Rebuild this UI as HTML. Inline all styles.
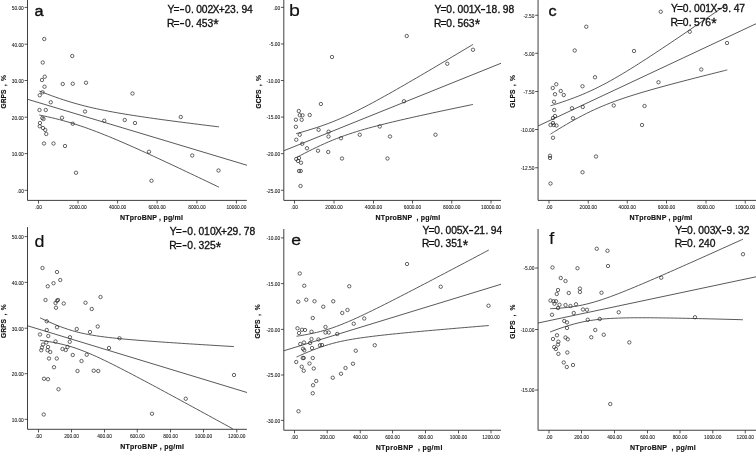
<!DOCTYPE html>
<html lang="en">
<head>
<meta charset="utf-8">
<title>NTproBNP vs strain scatter plots</title>
<style>
html,body{margin:0;padding:0;background:#fff;}
body{width:756px;height:458px;overflow:hidden;font-family:"Liberation Sans",sans-serif;}
svg{display:block;will-change:transform;}
svg text{font-family:"Liberation Sans",sans-serif;fill:#111;}
.ax{fill:none;stroke:#2b2b2b;stroke-width:0.9;}
.tk{fill:none;stroke:#2b2b2b;stroke-width:0.8;}
.cv{fill:none;stroke:#2e2e2e;stroke-width:0.8;}
circle{fill:none;stroke:#262626;stroke-width:0.7;}
.tl{font-size:4.8px;fill:#1a1a1a;stroke:#1a1a1a;stroke-width:0.08;}
.al{font-size:7.0px;font-weight:bold;stroke:#111;stroke-width:0.15;}
.yl{font-size:6.7px;font-weight:bold;stroke:#111;stroke-width:0.15;}
.lt{stroke:#111;}
.eq{font-size:10.3px;stroke:#111;stroke-width:0.32;}
</style>
</head>
<body>
<svg width="756" height="458" viewBox="0 0 756 458">
<rect width="756" height="458" fill="#fff"/>
<g id="panel-a">
<path class="ax" d="M27.5,0V200.4H246.9"/>
<path class="tk" d="M24.60,7.40H27.50M24.60,44.20H27.50M24.60,80.50H27.50M24.60,117.20H27.50M24.60,153.60H27.50M24.60,190.30H27.50M38.50,200.40V203.50M78.00,200.40V203.50M117.60,200.40V203.50M157.10,200.40V203.50M196.90,200.40V203.50M236.40,200.40V203.50"/>
<text class="tl" text-anchor="end" x="23.80" y="9.75">50.00</text>
<text class="tl" text-anchor="end" x="23.80" y="46.55">40.00</text>
<text class="tl" text-anchor="end" x="23.80" y="82.85">30.00</text>
<text class="tl" text-anchor="end" x="23.80" y="119.55">20.00</text>
<text class="tl" text-anchor="end" x="23.80" y="155.95">10.00</text>
<text class="tl" text-anchor="end" x="23.80" y="192.65">.00</text>
<text class="tl" text-anchor="middle" x="38.50" y="208.85">.00</text>
<text class="tl" text-anchor="middle" x="78.00" y="208.85">2000.00</text>
<text class="tl" text-anchor="middle" x="117.60" y="208.85">4000.00</text>
<text class="tl" text-anchor="middle" x="157.10" y="208.85">6000.00</text>
<text class="tl" text-anchor="middle" x="196.90" y="208.85">8000.00</text>
<text class="tl" text-anchor="middle" x="236.40" y="208.85">10000.00</text>
<path class="cv" d="M39.25,91.00C39.93,91.27 41.97,92.07 43.34,92.60C44.70,93.13 46.06,93.65 47.42,94.16C48.78,94.67 50.14,95.18 51.51,95.67C52.87,96.17 54.23,96.66 55.59,97.14C56.95,97.62 58.31,98.09 59.68,98.55C61.04,99.01 62.40,99.46 63.76,99.91C65.12,100.35 66.48,100.78 67.85,101.21C69.21,101.63 70.57,102.04 71.93,102.45C73.29,102.85 74.66,103.24 76.02,103.63C77.38,104.01 78.74,104.39 80.10,104.75C81.46,105.12 82.83,105.47 84.19,105.82C85.55,106.17 86.91,106.51 88.27,106.83C89.63,107.16 91.00,107.48 92.36,107.80C93.72,108.11 95.08,108.42 96.44,108.71C97.80,109.01 99.17,109.30 100.53,109.59C101.89,109.87 103.25,110.15 104.61,110.42C105.98,110.69 107.34,110.96 108.70,111.22C110.06,111.48 111.42,111.73 112.78,111.98C114.15,112.23 115.51,112.48 116.87,112.72C118.23,112.96 119.59,113.19 120.95,113.43C122.32,113.66 123.68,113.89 125.04,114.11C126.40,114.34 127.76,114.56 129.12,114.78C130.49,115.00 131.85,115.21 133.21,115.43C134.57,115.64 135.93,115.85 137.30,116.06C138.66,116.27 140.02,116.47 141.38,116.67C142.74,116.88 144.10,117.08 145.47,117.28C146.83,117.47 148.19,117.67 149.55,117.87C150.91,118.06 152.27,118.25 153.64,118.45C155.00,118.64 156.36,118.83 157.72,119.02C159.08,119.20 160.45,119.39 161.81,119.58C163.17,119.76 164.53,119.95 165.89,120.13C167.25,120.31 168.62,120.50 169.98,120.68C171.34,120.86 172.70,121.04 174.06,121.22C175.42,121.40 176.79,121.57 178.15,121.75C179.51,121.93 180.87,122.10 182.23,122.28C183.59,122.45 184.96,122.63 186.32,122.80C187.68,122.98 189.04,123.15 190.40,123.32C191.77,123.49 193.13,123.67 194.49,123.84C195.85,124.01 197.21,124.18 198.57,124.35C199.94,124.52 201.30,124.69 202.66,124.86C204.02,125.02 205.38,125.19 206.74,125.36C208.11,125.53 209.47,125.69 210.83,125.86C212.19,126.03 213.55,126.19 214.91,126.36C216.28,126.53 218.32,126.77 219.00,126.86"/>
<path class="cv" d="M27.50,99.25L247.00,165.25"/>
<path class="cv" d="M39.25,114.97C39.93,115.11 41.97,115.53 43.34,115.82C44.70,116.11 46.06,116.41 47.42,116.72C48.78,117.03 50.14,117.34 51.51,117.66C52.87,117.99 54.23,118.32 55.59,118.65C56.95,118.99 58.31,119.34 59.68,119.70C61.04,120.06 62.40,120.42 63.76,120.80C65.12,121.18 66.48,121.56 67.85,121.96C69.21,122.35 70.57,122.76 71.93,123.17C73.29,123.59 74.66,124.01 76.02,124.45C77.38,124.88 78.74,125.33 80.10,125.78C81.46,126.23 82.83,126.70 84.19,127.17C85.55,127.64 86.91,128.12 88.27,128.61C89.63,129.10 91.00,129.60 92.36,130.11C93.72,130.61 95.08,131.13 96.44,131.65C97.80,132.17 99.17,132.70 100.53,133.23C101.89,133.76 103.25,134.31 104.61,134.85C105.98,135.40 107.34,135.95 108.70,136.51C110.06,137.07 111.42,137.64 112.78,138.20C114.15,138.77 115.51,139.35 116.87,139.93C118.23,140.50 119.59,141.09 120.95,141.67C122.32,142.26 123.68,142.85 125.04,143.44C126.40,144.04 127.76,144.63 129.12,145.23C130.49,145.83 131.85,146.44 133.21,147.04C134.57,147.65 135.93,148.26 137.30,148.87C138.66,149.48 140.02,150.10 141.38,150.71C142.74,151.33 144.10,151.95 145.47,152.57C146.83,153.19 148.19,153.81 149.55,154.43C150.91,155.06 152.27,155.68 153.64,156.31C155.00,156.94 156.36,157.56 157.72,158.20C159.08,158.83 160.45,159.46 161.81,160.09C163.17,160.72 164.53,161.36 165.89,161.99C167.25,162.63 168.62,163.27 169.98,163.90C171.34,164.54 172.70,165.18 174.06,165.82C175.42,166.46 176.79,167.10 178.15,167.74C179.51,168.39 180.87,169.03 182.23,169.67C183.59,170.32 184.96,170.96 186.32,171.61C187.68,172.25 189.04,172.90 190.40,173.54C191.77,174.19 193.13,174.84 194.49,175.48C195.85,176.13 197.21,176.78 198.57,177.43C199.94,178.08 201.30,178.73 202.66,179.38C204.02,180.03 205.38,180.68 206.74,181.33C208.11,181.98 209.47,182.63 210.83,183.29C212.19,183.94 213.55,184.59 214.91,185.24C216.28,185.90 218.32,186.88 219.00,187.21"/>
<circle cx="44.25" cy="39.00" r="1.7"/>
<circle cx="72.25" cy="56.00" r="1.7"/>
<circle cx="42.75" cy="62.50" r="1.7"/>
<circle cx="44.75" cy="76.75" r="1.7"/>
<circle cx="42.00" cy="80.00" r="1.7"/>
<circle cx="62.75" cy="84.00" r="1.7"/>
<circle cx="72.75" cy="83.75" r="1.7"/>
<circle cx="86.00" cy="82.75" r="1.7"/>
<circle cx="44.50" cy="86.75" r="1.7"/>
<circle cx="42.50" cy="92.25" r="1.7"/>
<circle cx="39.75" cy="95.25" r="1.7"/>
<circle cx="132.50" cy="93.50" r="1.7"/>
<circle cx="50.75" cy="102.25" r="1.7"/>
<circle cx="39.50" cy="110.00" r="1.7"/>
<circle cx="45.75" cy="110.00" r="1.7"/>
<circle cx="85.00" cy="111.50" r="1.7"/>
<circle cx="42.30" cy="118.00" r="1.7"/>
<circle cx="43.50" cy="119.00" r="1.7"/>
<circle cx="62.00" cy="117.75" r="1.7"/>
<circle cx="40.00" cy="123.00" r="1.7"/>
<circle cx="72.75" cy="123.75" r="1.7"/>
<circle cx="39.75" cy="126.25" r="1.7"/>
<circle cx="43.00" cy="128.00" r="1.7"/>
<circle cx="45.25" cy="130.00" r="1.7"/>
<circle cx="46.25" cy="134.00" r="1.7"/>
<circle cx="44.00" cy="143.50" r="1.7"/>
<circle cx="53.50" cy="143.50" r="1.7"/>
<circle cx="65.00" cy="146.00" r="1.7"/>
<circle cx="76.00" cy="172.75" r="1.7"/>
<circle cx="104.25" cy="120.75" r="1.7"/>
<circle cx="124.75" cy="120.00" r="1.7"/>
<circle cx="135.00" cy="123.00" r="1.7"/>
<circle cx="149.00" cy="151.75" r="1.7"/>
<circle cx="151.50" cy="180.75" r="1.7"/>
<circle cx="180.75" cy="117.00" r="1.7"/>
<circle cx="192.25" cy="155.50" r="1.7"/>
<circle cx="218.50" cy="170.50" r="1.7"/>
<text class="lt" font-size="15.4" stroke-width="0.4" transform="translate(34.42,16.3) scale(1.05,1)">a</text>
<text class="yl" word-spacing="1.53" transform="translate(5.9,108.5) rotate(-90)">GRPS , %</text>
<text class="al" text-anchor="middle" textLength="62.8" lengthAdjust="spacing" xml:space="preserve" x="151.5" y="219.7">NTproBNP , pg/ml</text>
<text class="eq" x="167.39 173.47 179.29 184.91 190.92 196.21 201.86 207.59 212.58 218.67 224.54 230.12 236.12 241.41 247.09" y="13.00 13.00 14.00 13.00 13.00 13.00 13.00 13.00 13.00 13.00 13.00 13.00 13.00 13.00 13.00">Y=<tspan font-size="17.0" stroke="none">-</tspan>0.002X+23.94</text>
<text class="eq" x="166.92 173.47 179.29 184.91 190.92 196.24 201.84 207.52 213.29" y="26.50 26.50 27.50 26.50 26.50 26.50 26.50 26.50 29.30">R=<tspan font-size="17.0" stroke="none">-</tspan>0.453<tspan font-size="14.0">*</tspan></text>
</g>
<g id="panel-b">
<path class="ax" d="M283.8,0V200.4H501"/>
<path class="tk" d="M280.90,7.40H283.80M280.90,43.95H283.80M280.90,80.50H283.80M280.90,117.10H283.80M280.90,153.65H283.80M280.90,190.25H283.80M294.50,200.40V203.50M334.00,200.40V203.50M373.50,200.40V203.50M412.50,200.40V203.50M451.75,200.40V203.50M491.00,200.40V203.50"/>
<text class="tl" text-anchor="end" x="280.10" y="9.75">.00</text>
<text class="tl" text-anchor="end" x="280.10" y="46.30">-5.00</text>
<text class="tl" text-anchor="end" x="280.10" y="82.85">-10.00</text>
<text class="tl" text-anchor="end" x="280.10" y="119.45">-15.00</text>
<text class="tl" text-anchor="end" x="280.10" y="156.00">-20.00</text>
<text class="tl" text-anchor="end" x="280.10" y="192.60">-25.00</text>
<text class="tl" text-anchor="middle" x="294.50" y="208.85">.00</text>
<text class="tl" text-anchor="middle" x="334.00" y="208.85">2000.00</text>
<text class="tl" text-anchor="middle" x="373.50" y="208.85">4000.00</text>
<text class="tl" text-anchor="middle" x="412.50" y="208.85">6000.00</text>
<text class="tl" text-anchor="middle" x="451.75" y="208.85">8000.00</text>
<text class="tl" text-anchor="middle" x="491.00" y="208.85">10000.00</text>
<path class="cv" d="M296.00,133.68C296.67,133.50 298.68,132.95 300.02,132.58C301.36,132.21 302.70,131.83 304.05,131.44C305.39,131.05 306.73,130.66 308.07,130.26C309.41,129.86 310.75,129.45 312.09,129.03C313.43,128.61 314.77,128.18 316.11,127.74C317.45,127.31 318.80,126.86 320.14,126.40C321.48,125.94 322.82,125.47 324.16,124.99C325.50,124.51 326.84,124.02 328.18,123.51C329.52,123.01 330.86,122.49 332.20,121.96C333.55,121.43 334.89,120.89 336.23,120.34C337.57,119.78 338.91,119.22 340.25,118.64C341.59,118.06 342.93,117.47 344.27,116.87C345.61,116.27 346.95,115.65 348.30,115.03C349.64,114.41 350.98,113.77 352.32,113.13C353.66,112.48 355.00,111.83 356.34,111.16C357.68,110.50 359.02,109.83 360.36,109.15C361.70,108.47 363.05,107.78 364.39,107.08C365.73,106.39 367.07,105.69 368.41,104.98C369.75,104.27 371.09,103.55 372.43,102.83C373.77,102.12 375.11,101.39 376.45,100.66C377.80,99.93 379.14,99.19 380.48,98.46C381.82,97.72 383.16,96.97 384.50,96.23C385.84,95.48 387.18,94.73 388.52,93.98C389.86,93.22 391.20,92.47 392.55,91.71C393.89,90.95 395.23,90.19 396.57,89.42C397.91,88.66 399.25,87.89 400.59,87.12C401.93,86.35 403.27,85.58 404.61,84.81C405.95,84.04 407.30,83.26 408.64,82.48C409.98,81.71 411.32,80.93 412.66,80.15C414.00,79.37 415.34,78.59 416.68,77.81C418.02,77.02 419.36,76.24 420.70,75.45C422.05,74.67 423.39,73.88 424.73,73.10C426.07,72.31 427.41,71.52 428.75,70.73C430.09,69.94 431.43,69.15 432.77,68.36C434.11,67.57 435.45,66.78 436.80,65.98C438.14,65.19 439.48,64.40 440.82,63.60C442.16,62.81 443.50,62.01 444.84,61.22C446.18,60.42 447.52,59.62 448.86,58.83C450.20,58.03 451.55,57.23 452.89,56.43C454.23,55.64 455.57,54.84 456.91,54.04C458.25,53.24 459.59,52.44 460.93,51.64C462.27,50.84 463.61,50.04 464.95,49.24C466.30,48.44 467.64,47.63 468.98,46.83C470.32,46.03 472.33,44.83 473.00,44.43"/>
<path class="cv" d="M283.80,150.75L501.00,63.25"/>
<path class="cv" d="M296.50,157.52C297.17,157.16 299.17,156.09 300.51,155.39C301.85,154.69 303.19,153.99 304.52,153.30C305.86,152.61 307.20,151.93 308.53,151.25C309.87,150.58 311.21,149.91 312.55,149.25C313.88,148.60 315.22,147.95 316.56,147.31C317.89,146.67 319.23,146.04 320.57,145.42C321.91,144.81 323.24,144.20 324.58,143.60C325.92,143.01 327.25,142.42 328.59,141.85C329.93,141.28 331.27,140.72 332.60,140.17C333.94,139.63 335.28,139.09 336.61,138.57C337.95,138.05 339.29,137.54 340.62,137.04C341.96,136.54 343.30,136.05 344.64,135.58C345.97,135.10 347.31,134.64 348.65,134.19C349.98,133.73 351.32,133.29 352.66,132.86C354.00,132.43 355.33,132.00 356.67,131.59C358.01,131.17 359.34,130.77 360.68,130.37C362.02,129.97 363.36,129.58 364.69,129.20C366.03,128.82 367.37,128.44 368.70,128.07C370.04,127.70 371.38,127.34 372.72,126.98C374.05,126.62 375.39,126.27 376.73,125.92C378.06,125.57 379.40,125.22 380.74,124.88C382.08,124.54 383.41,124.21 384.75,123.88C386.09,123.54 387.42,123.21 388.76,122.89C390.10,122.56 391.44,122.24 392.77,121.92C394.11,121.60 395.45,121.28 396.78,120.97C398.12,120.65 399.46,120.34 400.80,120.03C402.13,119.72 403.47,119.41 404.81,119.11C406.14,118.80 407.48,118.50 408.82,118.19C410.16,117.89 411.49,117.59 412.83,117.29C414.17,116.99 415.50,116.69 416.84,116.39C418.18,116.10 419.52,115.80 420.85,115.51C422.19,115.21 423.53,114.92 424.86,114.63C426.20,114.34 427.54,114.05 428.88,113.76C430.21,113.47 431.55,113.18 432.89,112.89C434.22,112.60 435.56,112.31 436.90,112.03C438.23,111.74 439.57,111.45 440.91,111.17C442.25,110.88 443.58,110.60 444.92,110.32C446.26,110.03 447.59,109.75 448.93,109.47C450.27,109.18 451.61,108.90 452.94,108.62C454.28,108.34 455.62,108.06 456.95,107.78C458.29,107.50 459.63,107.22 460.97,106.94C462.30,106.66 463.64,106.38 464.98,106.10C466.31,105.82 467.65,105.54 468.99,105.27C470.33,104.99 472.33,104.57 473.00,104.43"/>
<circle cx="332.00" cy="57.00" r="1.7"/>
<circle cx="320.90" cy="104.00" r="1.7"/>
<circle cx="298.80" cy="111.00" r="1.7"/>
<circle cx="299.80" cy="115.20" r="1.7"/>
<circle cx="302.50" cy="115.30" r="1.7"/>
<circle cx="309.70" cy="115.00" r="1.7"/>
<circle cx="295.90" cy="119.75" r="1.7"/>
<circle cx="301.70" cy="119.80" r="1.7"/>
<circle cx="295.90" cy="126.80" r="1.7"/>
<circle cx="318.60" cy="129.80" r="1.7"/>
<circle cx="328.60" cy="131.70" r="1.7"/>
<circle cx="299.75" cy="134.75" r="1.7"/>
<circle cx="328.50" cy="136.50" r="1.7"/>
<circle cx="296.25" cy="139.75" r="1.7"/>
<circle cx="302.25" cy="143.75" r="1.7"/>
<circle cx="341.00" cy="138.25" r="1.7"/>
<circle cx="359.75" cy="134.75" r="1.7"/>
<circle cx="307.00" cy="148.25" r="1.7"/>
<circle cx="318.00" cy="150.75" r="1.7"/>
<circle cx="328.25" cy="152.00" r="1.7"/>
<circle cx="342.00" cy="158.50" r="1.7"/>
<circle cx="296.25" cy="159.00" r="1.7"/>
<circle cx="299.00" cy="158.00" r="1.7"/>
<circle cx="298.00" cy="161.00" r="1.7"/>
<circle cx="301.00" cy="162.75" r="1.7"/>
<circle cx="299.00" cy="171.00" r="1.7"/>
<circle cx="300.75" cy="171.00" r="1.7"/>
<circle cx="300.50" cy="186.00" r="1.7"/>
<circle cx="406.75" cy="36.00" r="1.7"/>
<circle cx="473.00" cy="49.75" r="1.7"/>
<circle cx="447.25" cy="63.75" r="1.7"/>
<circle cx="404.00" cy="101.25" r="1.7"/>
<circle cx="379.75" cy="126.50" r="1.7"/>
<circle cx="390.00" cy="136.50" r="1.7"/>
<circle cx="435.50" cy="134.75" r="1.7"/>
<circle cx="387.50" cy="158.50" r="1.7"/>
<text class="lt" font-size="16.3" stroke-width="0.1" transform="translate(288.95,16.45) scale(1.2,1)">b</text>
<text class="yl" word-spacing="1.53" transform="translate(260.9,108.5) rotate(-90)">GCPS , %</text>
<text class="al" text-anchor="middle" textLength="64.7" lengthAdjust="spacing" xml:space="preserve" x="407.85" y="219.7">NTproBNP  , pg/ml</text>
<text class="eq" x="434.39 440.47 446.26 452.27 457.56 463.21 468.72 473.93 480.19 485.67 491.46 497.47 502.76 508.41" y="13.00 13.00 13.00 13.00 13.00 13.00 13.00 13.00 14.00 13.00 13.00 13.00 13.00 13.00">Y=0.001X<tspan font-size="17.0" stroke="none">-</tspan>18.98</text>
<text class="eq" x="433.92 440.47 446.26 452.27 457.54 463.22 468.87 474.64" y="26.50 26.50 26.50 26.50 26.50 26.50 26.50 29.30">R=0.563<tspan font-size="14.0">*</tspan></text>
</g>
<g id="panel-c">
<path class="ax" d="M538.05,0V200.4H756"/>
<path class="tk" d="M535.15,15.25H538.05M535.15,53.25H538.05M535.15,91.50H538.05M535.15,129.50H538.05M535.15,167.75H538.05M549.00,200.40V203.50M588.25,200.40V203.50M627.25,200.40V203.50M666.50,200.40V203.50M706.00,200.40V203.50M745.25,200.40V203.50"/>
<text class="tl" text-anchor="end" x="534.35" y="17.60">-2.50</text>
<text class="tl" text-anchor="end" x="534.35" y="55.60">-5.00</text>
<text class="tl" text-anchor="end" x="534.35" y="93.85">-7.50</text>
<text class="tl" text-anchor="end" x="534.35" y="131.85">-10.00</text>
<text class="tl" text-anchor="end" x="534.35" y="170.10">-12.50</text>
<text class="tl" text-anchor="middle" x="549.00" y="208.85">.00</text>
<text class="tl" text-anchor="middle" x="588.25" y="208.85">2000.00</text>
<text class="tl" text-anchor="middle" x="627.25" y="208.85">4000.00</text>
<text class="tl" text-anchor="middle" x="666.50" y="208.85">6000.00</text>
<text class="tl" text-anchor="middle" x="706.00" y="208.85">8000.00</text>
<text class="tl" text-anchor="middle" x="745.25" y="208.85">10000.00</text>
<path class="cv" d="M550.50,105.80C551.17,105.59 553.17,104.97 554.51,104.55C555.85,104.12 557.19,103.69 558.52,103.25C559.86,102.81 561.20,102.37 562.53,101.91C563.87,101.46 565.21,101.00 566.55,100.52C567.88,100.05 569.22,99.57 570.56,99.08C571.89,98.59 573.23,98.10 574.57,97.58C575.91,97.07 577.24,96.55 578.58,96.02C579.92,95.48 581.25,94.94 582.59,94.38C583.93,93.82 585.27,93.24 586.60,92.66C587.94,92.07 589.28,91.47 590.61,90.86C591.95,90.24 593.29,89.61 594.62,88.97C595.96,88.33 597.30,87.67 598.64,87.00C599.97,86.33 601.31,85.65 602.65,84.95C603.98,84.26 605.32,83.55 606.66,82.83C608.00,82.10 609.33,81.37 610.67,80.63C612.01,79.88 613.34,79.12 614.68,78.36C616.02,77.59 617.36,76.82 618.69,76.03C620.03,75.25 621.37,74.45 622.70,73.65C624.04,72.85 625.38,72.04 626.72,71.22C628.05,70.41 629.39,69.58 630.73,68.75C632.06,67.92 633.40,67.09 634.74,66.25C636.08,65.41 637.41,64.56 638.75,63.71C640.09,62.86 641.42,62.00 642.76,61.14C644.10,60.28 645.44,59.42 646.77,58.55C648.11,57.68 649.45,56.81 650.78,55.94C652.12,55.06 653.46,54.19 654.80,53.31C656.13,52.43 657.47,51.54 658.81,50.66C660.14,49.77 661.48,48.89 662.82,48.00C664.16,47.11 665.49,46.22 666.83,45.32C668.17,44.43 669.50,43.53 670.84,42.64C672.18,41.74 673.52,40.84 674.85,39.94C676.19,39.04 677.53,38.14 678.86,37.24C680.20,36.33 681.54,35.43 682.88,34.52C684.21,33.62 685.55,32.71 686.89,31.80C688.22,30.90 689.56,29.99 690.90,29.08C692.23,28.17 693.57,27.26 694.91,26.34C696.25,25.43 697.58,24.52 698.92,23.61C700.26,22.69 701.59,21.78 702.93,20.86C704.27,19.95 705.61,19.03 706.94,18.12C708.28,17.20 709.62,16.28 710.95,15.37C712.29,14.45 713.63,13.53 714.97,12.61C716.30,11.69 717.64,10.77 718.98,9.85C720.31,8.93 721.65,8.01 722.99,7.09C724.33,6.17 726.33,4.79 727.00,4.33"/>
<path class="cv" d="M538.05,126.00L756.00,23.75"/>
<path class="cv" d="M550.50,134.11C551.17,133.70 553.18,132.44 554.52,131.60C555.86,130.77 557.20,129.95 558.54,129.13C559.88,128.32 561.22,127.51 562.55,126.70C563.89,125.90 565.23,125.11 566.57,124.32C567.91,123.54 569.25,122.76 570.59,122.00C571.93,121.23 573.27,120.47 574.61,119.73C575.95,118.98 577.29,118.25 578.63,117.53C579.97,116.81 581.31,116.10 582.65,115.40C583.98,114.71 585.32,114.03 586.66,113.36C588.00,112.69 589.34,112.03 590.68,111.39C592.02,110.75 593.36,110.12 594.70,109.51C596.04,108.90 597.38,108.30 598.72,107.71C600.06,107.13 601.40,106.56 602.74,106.00C604.08,105.44 605.42,104.89 606.75,104.36C608.09,103.83 609.43,103.31 610.77,102.80C612.11,102.29 613.45,101.79 614.79,101.30C616.13,100.81 617.47,100.33 618.81,99.86C620.15,99.39 621.49,98.93 622.83,98.48C624.17,98.02 625.51,97.58 626.85,97.14C628.18,96.70 629.52,96.27 630.86,95.85C632.20,95.42 633.54,95.00 634.88,94.59C636.22,94.17 637.56,93.77 638.90,93.36C640.24,92.96 641.58,92.56 642.92,92.16C644.26,91.77 645.60,91.38 646.94,90.99C648.28,90.60 649.62,90.22 650.95,89.84C652.29,89.46 653.63,89.08 654.97,88.70C656.31,88.33 657.65,87.95 658.99,87.58C660.33,87.21 661.67,86.85 663.01,86.48C664.35,86.12 665.69,85.75 667.03,85.39C668.37,85.03 669.71,84.67 671.05,84.31C672.38,83.95 673.72,83.60 675.06,83.24C676.40,82.89 677.74,82.53 679.08,82.18C680.42,81.83 681.76,81.48 683.10,81.13C684.44,80.78 685.78,80.43 687.12,80.09C688.46,79.74 689.80,79.39 691.14,79.05C692.48,78.70 693.82,78.36 695.15,78.01C696.49,77.67 697.83,77.33 699.17,76.99C700.51,76.65 701.85,76.30 703.19,75.96C704.53,75.62 705.87,75.28 707.21,74.95C708.55,74.61 709.89,74.27 711.23,73.93C712.57,73.59 713.91,73.26 715.25,72.92C716.58,72.58 717.92,72.25 719.26,71.91C720.60,71.58 721.94,71.24 723.28,70.91C724.62,70.57 726.63,70.07 727.30,69.91"/>
<circle cx="556.25" cy="84.25" r="1.7"/>
<circle cx="552.75" cy="88.00" r="1.7"/>
<circle cx="560.75" cy="91.00" r="1.7"/>
<circle cx="555.00" cy="94.25" r="1.7"/>
<circle cx="563.75" cy="95.00" r="1.7"/>
<circle cx="554.00" cy="101.75" r="1.7"/>
<circle cx="554.25" cy="110.00" r="1.7"/>
<circle cx="555.00" cy="116.00" r="1.7"/>
<circle cx="553.00" cy="118.00" r="1.7"/>
<circle cx="553.00" cy="123.00" r="1.7"/>
<circle cx="550.50" cy="125.00" r="1.7"/>
<circle cx="553.75" cy="125.00" r="1.7"/>
<circle cx="556.50" cy="125.50" r="1.7"/>
<circle cx="553.00" cy="137.75" r="1.7"/>
<circle cx="550.00" cy="155.75" r="1.7"/>
<circle cx="550.00" cy="158.00" r="1.7"/>
<circle cx="550.50" cy="183.50" r="1.7"/>
<circle cx="660.75" cy="11.75" r="1.7"/>
<circle cx="586.25" cy="26.75" r="1.7"/>
<circle cx="689.75" cy="31.75" r="1.7"/>
<circle cx="574.75" cy="50.50" r="1.7"/>
<circle cx="634.00" cy="51.00" r="1.7"/>
<circle cx="727.00" cy="43.00" r="1.7"/>
<circle cx="595.00" cy="77.25" r="1.7"/>
<circle cx="701.25" cy="69.50" r="1.7"/>
<circle cx="582.50" cy="86.25" r="1.7"/>
<circle cx="658.50" cy="82.25" r="1.7"/>
<circle cx="572.00" cy="108.25" r="1.7"/>
<circle cx="582.75" cy="107.00" r="1.7"/>
<circle cx="613.75" cy="105.50" r="1.7"/>
<circle cx="644.50" cy="106.00" r="1.7"/>
<circle cx="573.00" cy="118.25" r="1.7"/>
<circle cx="642.00" cy="125.00" r="1.7"/>
<circle cx="596.00" cy="156.50" r="1.7"/>
<circle cx="582.50" cy="172.25" r="1.7"/>
<text class="lt" font-size="15.4" stroke-width="0.4" transform="translate(548.42,16.45) scale(1.05,1)">c</text>
<text class="yl" word-spacing="1.46" transform="translate(515.4,107.7) rotate(-90)">GLPS , %</text>
<text class="al" text-anchor="middle" textLength="62.8" lengthAdjust="spacing" xml:space="preserve" x="660.9" y="219.7">NTproBNP , pg/ml</text>
<text class="eq" x="670.89 676.97 682.76 688.77 694.06 699.71 705.22 710.43 716.69 722.31 728.32 733.64 739.27" y="12.00 12.00 12.00 12.00 12.00 12.00 12.00 12.00 13.00 12.00 12.00 12.00 12.00">Y=0.001X<tspan font-size="17.0" stroke="none">-</tspan>9.47</text>
<text class="eq" x="670.42 676.97 682.76 688.77 694.04 699.72 705.37 711.14" y="25.50 25.50 25.50 25.50 25.50 25.50 25.50 28.30">R=0.576<tspan font-size="14.0">*</tspan></text>
</g>
<g id="panel-d">
<path class="ax" d="M27.5,227.1V429.3H246.9"/>
<path class="tk" d="M24.60,236.60H27.50M24.60,282.35H27.50M24.60,328.20H27.50M24.60,373.70H27.50M24.60,419.30H27.50M38.50,429.30V432.40M71.50,429.30V432.40M104.50,429.30V432.40M137.25,429.30V432.40M170.50,429.30V432.40M203.50,429.30V432.40M236.75,429.30V432.40"/>
<text class="tl" text-anchor="end" x="23.80" y="238.95">50.00</text>
<text class="tl" text-anchor="end" x="23.80" y="284.70">40.00</text>
<text class="tl" text-anchor="end" x="23.80" y="330.55">30.00</text>
<text class="tl" text-anchor="end" x="23.80" y="376.05">20.00</text>
<text class="tl" text-anchor="end" x="23.80" y="421.65">10.00</text>
<text class="tl" text-anchor="middle" x="38.50" y="437.75">.00</text>
<text class="tl" text-anchor="middle" x="71.50" y="437.75">200.00</text>
<text class="tl" text-anchor="middle" x="104.50" y="437.75">400.00</text>
<text class="tl" text-anchor="middle" x="137.25" y="437.75">600.00</text>
<text class="tl" text-anchor="middle" x="170.50" y="437.75">800.00</text>
<text class="tl" text-anchor="middle" x="203.50" y="437.75">1000.00</text>
<text class="tl" text-anchor="middle" x="236.75" y="437.75">1200.00</text>
<path class="cv" d="M40.00,317.78C40.67,318.10 42.69,319.06 44.04,319.68C45.39,320.30 46.74,320.92 48.08,321.52C49.43,322.12 50.78,322.71 52.12,323.29C53.47,323.86 54.82,324.43 56.17,324.97C57.51,325.52 58.86,326.05 60.21,326.57C61.56,327.08 62.90,327.58 64.25,328.06C65.60,328.53 66.94,328.99 68.29,329.43C69.64,329.87 70.99,330.28 72.33,330.68C73.68,331.08 75.03,331.45 76.38,331.81C77.72,332.16 79.07,332.50 80.42,332.81C81.76,333.13 83.11,333.43 84.46,333.71C85.81,334.00 87.15,334.26 88.50,334.51C89.85,334.77 91.19,335.00 92.54,335.23C93.89,335.46 95.24,335.67 96.58,335.87C97.93,336.08 99.28,336.27 100.62,336.45C101.97,336.64 103.32,336.81 104.67,336.98C106.01,337.15 107.36,337.32 108.71,337.47C110.06,337.63 111.40,337.78 112.75,337.93C114.10,338.07 115.44,338.21 116.79,338.35C118.14,338.49 119.49,338.62 120.83,338.75C122.18,338.88 123.53,339.00 124.88,339.13C126.22,339.25 127.57,339.37 128.92,339.49C130.26,339.60 131.61,339.72 132.96,339.83C134.31,339.95 135.65,340.06 137.00,340.17C138.35,340.27 139.69,340.38 141.04,340.49C142.39,340.59 143.74,340.70 145.08,340.80C146.43,340.90 147.78,341.00 149.12,341.10C150.47,341.20 151.82,341.30 153.17,341.40C154.51,341.50 155.86,341.60 157.21,341.69C158.56,341.79 159.90,341.88 161.25,341.98C162.60,342.07 163.94,342.16 165.29,342.26C166.64,342.35 167.99,342.44 169.33,342.53C170.68,342.62 172.03,342.71 173.38,342.80C174.72,342.89 176.07,342.98 177.42,343.07C178.76,343.16 180.11,343.25 181.46,343.34C182.81,343.42 184.15,343.51 185.50,343.60C186.85,343.69 188.19,343.77 189.54,343.86C190.89,343.94 192.24,344.03 193.58,344.11C194.93,344.20 196.28,344.28 197.62,344.37C198.97,344.45 200.32,344.54 201.67,344.62C203.01,344.71 204.36,344.79 205.71,344.87C207.06,344.96 208.40,345.04 209.75,345.12C211.10,345.21 212.44,345.29 213.79,345.37C215.14,345.45 216.49,345.54 217.83,345.62C219.18,345.70 220.53,345.78 221.88,345.86C223.22,345.94 224.57,346.03 225.92,346.11C227.26,346.19 228.61,346.27 229.96,346.35C231.31,346.43 233.33,346.55 234.00,346.59"/>
<path class="cv" d="M27.50,325.75L247.00,392.50"/>
<path class="cv" d="M40.00,340.32C40.67,340.41 42.68,340.68 44.02,340.88C45.35,341.07 46.69,341.28 48.03,341.49C49.37,341.71 50.71,341.94 52.05,342.18C53.39,342.42 54.72,342.67 56.06,342.94C57.40,343.21 58.74,343.49 60.08,343.80C61.42,344.10 62.76,344.42 64.09,344.75C65.43,345.09 66.77,345.45 68.11,345.83C69.45,346.21 70.79,346.60 72.12,347.02C73.46,347.44 74.80,347.88 76.14,348.34C77.48,348.80 78.82,349.28 80.16,349.77C81.49,350.27 82.83,350.78 84.17,351.32C85.51,351.85 86.85,352.39 88.19,352.96C89.53,353.52 90.86,354.09 92.20,354.68C93.54,355.27 94.88,355.87 96.22,356.48C97.56,357.09 98.90,357.71 100.23,358.34C101.57,358.97 102.91,359.60 104.25,360.25C105.59,360.89 106.93,361.54 108.27,362.20C109.60,362.86 110.94,363.52 112.28,364.19C113.62,364.86 114.96,365.53 116.30,366.21C117.64,366.88 118.97,367.57 120.31,368.25C121.65,368.94 122.99,369.62 124.33,370.31C125.67,371.01 127.01,371.70 128.34,372.40C129.68,373.09 131.02,373.79 132.36,374.49C133.70,375.19 135.04,375.90 136.38,376.60C137.71,377.31 139.05,378.02 140.39,378.72C141.73,379.43 143.07,380.14 144.41,380.85C145.74,381.57 147.08,382.28 148.42,382.99C149.76,383.71 151.10,384.42 152.44,385.14C153.78,385.86 155.11,386.57 156.45,387.29C157.79,388.01 159.13,388.73 160.47,389.45C161.81,390.17 163.15,390.89 164.48,391.61C165.82,392.33 167.16,393.06 168.50,393.78C169.84,394.50 171.18,395.23 172.52,395.95C173.85,396.68 175.19,397.40 176.53,398.13C177.87,398.85 179.21,399.58 180.55,400.31C181.89,401.03 183.22,401.76 184.56,402.49C185.90,403.22 187.24,403.94 188.58,404.67C189.92,405.40 191.26,406.13 192.59,406.86C193.93,407.59 195.27,408.32 196.61,409.05C197.95,409.78 199.29,410.51 200.62,411.24C201.96,411.97 203.30,412.70 204.64,413.43C205.98,414.16 207.32,414.89 208.66,415.62C209.99,416.36 211.33,417.09 212.67,417.82C214.01,418.55 215.35,419.28 216.69,420.02C218.03,420.75 219.36,421.48 220.70,422.21C222.04,422.95 223.38,423.68 224.72,424.41C226.06,425.15 227.40,425.88 228.73,426.62C230.07,427.35 232.08,428.45 232.75,428.82"/>
<circle cx="42.50" cy="268.00" r="1.7"/>
<circle cx="57.00" cy="272.00" r="1.7"/>
<circle cx="60.25" cy="280.00" r="1.7"/>
<circle cx="53.50" cy="283.25" r="1.7"/>
<circle cx="47.75" cy="286.25" r="1.7"/>
<circle cx="45.50" cy="300.00" r="1.7"/>
<circle cx="58.00" cy="300.00" r="1.7"/>
<circle cx="57.00" cy="300.75" r="1.7"/>
<circle cx="55.50" cy="303.00" r="1.7"/>
<circle cx="63.75" cy="303.50" r="1.7"/>
<circle cx="56.00" cy="307.75" r="1.7"/>
<circle cx="85.50" cy="302.75" r="1.7"/>
<circle cx="100.50" cy="297.00" r="1.7"/>
<circle cx="91.75" cy="309.00" r="1.7"/>
<circle cx="46.75" cy="321.25" r="1.7"/>
<circle cx="57.00" cy="327.25" r="1.7"/>
<circle cx="46.75" cy="330.00" r="1.7"/>
<circle cx="76.75" cy="329.00" r="1.7"/>
<circle cx="97.75" cy="326.50" r="1.7"/>
<circle cx="90.00" cy="332.00" r="1.7"/>
<circle cx="40.00" cy="334.50" r="1.7"/>
<circle cx="48.25" cy="336.00" r="1.7"/>
<circle cx="70.00" cy="337.25" r="1.7"/>
<circle cx="119.50" cy="338.25" r="1.7"/>
<circle cx="55.50" cy="341.50" r="1.7"/>
<circle cx="69.75" cy="341.80" r="1.7"/>
<circle cx="43.00" cy="344.50" r="1.7"/>
<circle cx="46.25" cy="342.50" r="1.7"/>
<circle cx="42.00" cy="347.50" r="1.7"/>
<circle cx="48.00" cy="347.00" r="1.7"/>
<circle cx="41.25" cy="350.25" r="1.7"/>
<circle cx="47.50" cy="350.25" r="1.7"/>
<circle cx="50.25" cy="352.00" r="1.7"/>
<circle cx="62.50" cy="349.00" r="1.7"/>
<circle cx="65.75" cy="350.00" r="1.7"/>
<circle cx="67.50" cy="347.00" r="1.7"/>
<circle cx="72.75" cy="355.00" r="1.7"/>
<circle cx="86.75" cy="354.75" r="1.7"/>
<circle cx="109.00" cy="348.00" r="1.7"/>
<circle cx="49.00" cy="358.50" r="1.7"/>
<circle cx="56.75" cy="358.50" r="1.7"/>
<circle cx="81.50" cy="361.00" r="1.7"/>
<circle cx="54.00" cy="367.25" r="1.7"/>
<circle cx="77.50" cy="371.00" r="1.7"/>
<circle cx="93.75" cy="370.75" r="1.7"/>
<circle cx="98.25" cy="371.00" r="1.7"/>
<circle cx="44.00" cy="378.75" r="1.7"/>
<circle cx="48.00" cy="379.25" r="1.7"/>
<circle cx="58.50" cy="389.25" r="1.7"/>
<circle cx="43.75" cy="414.50" r="1.7"/>
<circle cx="152.00" cy="413.75" r="1.7"/>
<circle cx="185.75" cy="398.75" r="1.7"/>
<circle cx="234.00" cy="375.00" r="1.7"/>
<text class="lt" font-size="16.3" stroke-width="0.15" transform="translate(34.45,247.3) scale(1.1,1)">d</text>
<text class="yl" word-spacing="1.61" transform="translate(5.9,338.0) rotate(-90)">GRPS , %</text>
<text class="al" text-anchor="middle" textLength="63.7" lengthAdjust="spacing" xml:space="preserve" x="152.0" y="448.7">NTproBNP , pg/ml</text>
<text class="eq" x="169.79 175.87 181.69 187.31 193.32 198.61 204.12 209.91 214.98 221.07 226.94 232.51 238.52 243.82 249.46" y="234.80 234.80 235.80 234.80 234.80 234.80 234.80 234.80 234.80 234.80 234.80 234.80 234.80 234.80 234.80">Y=<tspan font-size="17.0" stroke="none">-</tspan>0.010X+29.78</text>
<text class="eq" x="169.32 175.87 181.69 187.31 193.32 198.62 204.34 209.89 215.70" y="248.70 248.70 249.70 248.70 248.70 248.70 248.70 248.70 251.50">R=<tspan font-size="17.0" stroke="none">-</tspan>0.325<tspan font-size="14.0">*</tspan></text>
</g>
<g id="panel-e">
<path class="ax" d="M283.8,229V430.25H501"/>
<path class="tk" d="M280.90,237.90H283.80M280.90,283.60H283.80M280.90,329.40H283.80M280.90,375.00H283.80M280.90,420.40H283.80M294.50,430.25V433.35M327.25,430.25V433.35M360.25,430.25V433.35M392.50,430.25V433.35M425.50,430.25V433.35M458.50,430.25V433.35M491.00,430.25V433.35"/>
<text class="tl" text-anchor="end" x="280.10" y="240.25">-10.00</text>
<text class="tl" text-anchor="end" x="280.10" y="285.95">-15.00</text>
<text class="tl" text-anchor="end" x="280.10" y="331.75">-20.00</text>
<text class="tl" text-anchor="end" x="280.10" y="377.35">-25.00</text>
<text class="tl" text-anchor="end" x="280.10" y="422.75">-30.00</text>
<text class="tl" text-anchor="middle" x="294.50" y="439.10">.00</text>
<text class="tl" text-anchor="middle" x="327.25" y="439.10">200.00</text>
<text class="tl" text-anchor="middle" x="360.25" y="439.10">400.00</text>
<text class="tl" text-anchor="middle" x="392.50" y="439.10">600.00</text>
<text class="tl" text-anchor="middle" x="425.50" y="439.10">800.00</text>
<text class="tl" text-anchor="middle" x="458.50" y="439.10">1000.00</text>
<text class="tl" text-anchor="middle" x="491.00" y="439.10">1200.00</text>
<path class="cv" d="M296.50,336.26C297.17,336.15 299.17,335.84 300.51,335.62C301.84,335.40 303.18,335.17 304.51,334.93C305.85,334.69 307.18,334.44 308.52,334.18C309.85,333.92 311.19,333.64 312.52,333.35C313.86,333.07 315.19,332.76 316.53,332.44C317.86,332.13 319.20,331.79 320.53,331.44C321.87,331.09 323.20,330.72 324.54,330.33C325.87,329.95 327.21,329.54 328.54,329.12C329.88,328.70 331.21,328.26 332.55,327.80C333.88,327.34 335.22,326.86 336.55,326.37C337.89,325.88 339.22,325.37 340.56,324.85C341.89,324.33 343.23,323.79 344.56,323.24C345.90,322.69 347.23,322.13 348.57,321.56C349.90,320.99 351.24,320.40 352.57,319.81C353.91,319.22 355.24,318.61 356.58,318.01C357.91,317.40 359.25,316.78 360.58,316.16C361.92,315.53 363.25,314.90 364.59,314.27C365.92,313.63 367.26,312.99 368.59,312.34C369.93,311.70 371.26,311.05 372.60,310.40C373.93,309.74 375.27,309.08 376.60,308.42C377.94,307.76 379.27,307.10 380.61,306.43C381.94,305.77 383.28,305.10 384.61,304.42C385.95,303.75 387.28,303.08 388.62,302.40C389.95,301.73 391.29,301.05 392.62,300.37C393.96,299.69 395.30,299.01 396.63,298.32C397.97,297.64 399.30,296.96 400.64,296.27C401.97,295.58 403.31,294.90 404.64,294.21C405.98,293.52 407.31,292.83 408.65,292.14C409.98,291.45 411.32,290.76 412.65,290.07C413.99,289.37 415.32,288.68 416.66,287.99C417.99,287.29 419.33,286.60 420.66,285.90C422.00,285.21 423.33,284.51 424.67,283.81C426.00,283.12 427.34,282.42 428.67,281.72C430.01,281.02 431.34,280.32 432.68,279.62C434.01,278.92 435.35,278.23 436.68,277.53C438.02,276.82 439.35,276.12 440.69,275.42C442.02,274.72 443.36,274.02 444.69,273.32C446.03,272.62 447.36,271.91 448.70,271.21C450.03,270.51 451.37,269.81 452.70,269.10C454.04,268.40 455.37,267.70 456.71,266.99C458.04,266.29 459.38,265.58 460.71,264.88C462.05,264.18 463.38,263.47 464.72,262.77C466.05,262.06 467.39,261.36 468.72,260.65C470.06,259.95 471.39,259.24 472.73,258.53C474.06,257.83 475.40,257.12 476.73,256.42C478.07,255.71 479.40,255.00 480.74,254.30C482.07,253.59 483.41,252.88 484.74,252.18C486.08,251.47 488.08,250.41 488.75,250.06"/>
<path class="cv" d="M283.80,350.75L501.00,284.25"/>
<path class="cv" d="M296.50,357.06C297.17,356.76 299.17,355.84 300.51,355.25C301.84,354.65 303.18,354.06 304.51,353.49C305.85,352.91 307.18,352.34 308.52,351.79C309.85,351.23 311.19,350.69 312.52,350.16C313.86,349.63 315.19,349.11 316.53,348.62C317.86,348.12 319.20,347.63 320.53,347.17C321.87,346.70 323.20,346.25 324.54,345.82C325.87,345.39 327.21,344.98 328.54,344.58C329.88,344.19 331.21,343.81 332.55,343.45C333.88,343.09 335.22,342.75 336.55,342.42C337.89,342.10 339.22,341.79 340.56,341.49C341.89,341.20 343.23,340.92 344.56,340.65C345.90,340.38 347.23,340.13 348.57,339.88C349.90,339.64 351.24,339.40 352.57,339.18C353.91,338.95 355.24,338.74 356.58,338.53C357.91,338.32 359.25,338.12 360.58,337.93C361.92,337.73 363.25,337.55 364.59,337.36C365.92,337.18 367.26,337.01 368.59,336.83C369.93,336.66 371.26,336.49 372.60,336.33C373.93,336.17 375.27,336.01 376.60,335.85C377.94,335.69 379.27,335.54 380.61,335.39C381.94,335.24 383.28,335.09 384.61,334.94C385.95,334.80 387.28,334.65 388.62,334.51C389.95,334.37 391.29,334.23 392.62,334.09C393.96,333.96 395.30,333.82 396.63,333.69C397.97,333.55 399.30,333.42 400.64,333.29C401.97,333.16 403.31,333.03 404.64,332.90C405.98,332.77 407.31,332.64 408.65,332.51C409.98,332.38 411.32,332.26 412.65,332.13C413.99,332.01 415.32,331.88 416.66,331.76C417.99,331.64 419.33,331.51 420.66,331.39C422.00,331.27 423.33,331.15 424.67,331.03C426.00,330.91 427.34,330.79 428.67,330.67C430.01,330.55 431.34,330.43 432.68,330.31C434.01,330.19 435.35,330.08 436.68,329.96C438.02,329.84 439.35,329.72 440.69,329.61C442.02,329.49 443.36,329.38 444.69,329.26C446.03,329.14 447.36,329.03 448.70,328.91C450.03,328.80 451.37,328.68 452.70,328.57C454.04,328.46 455.37,328.34 456.71,328.23C458.04,328.12 459.38,328.00 460.71,327.89C462.05,327.78 463.38,327.66 464.72,327.55C466.05,327.44 467.39,327.33 468.72,327.21C470.06,327.10 471.39,326.99 472.73,326.88C474.06,326.77 475.40,326.65 476.73,326.54C478.07,326.43 479.40,326.32 480.74,326.21C482.07,326.10 483.41,325.99 484.74,325.88C486.08,325.77 488.08,325.60 488.75,325.55"/>
<circle cx="299.75" cy="273.50" r="1.7"/>
<circle cx="304.25" cy="285.75" r="1.7"/>
<circle cx="349.25" cy="286.25" r="1.7"/>
<circle cx="298.25" cy="301.75" r="1.7"/>
<circle cx="306.25" cy="299.75" r="1.7"/>
<circle cx="314.50" cy="301.25" r="1.7"/>
<circle cx="333.25" cy="301.25" r="1.7"/>
<circle cx="323.25" cy="306.75" r="1.7"/>
<circle cx="342.25" cy="313.00" r="1.7"/>
<circle cx="347.50" cy="310.00" r="1.7"/>
<circle cx="312.75" cy="318.00" r="1.7"/>
<circle cx="364.25" cy="318.50" r="1.7"/>
<circle cx="353.75" cy="323.75" r="1.7"/>
<circle cx="297.50" cy="328.25" r="1.7"/>
<circle cx="302.00" cy="329.75" r="1.7"/>
<circle cx="305.00" cy="330.00" r="1.7"/>
<circle cx="299.00" cy="333.00" r="1.7"/>
<circle cx="311.50" cy="331.75" r="1.7"/>
<circle cx="325.50" cy="327.00" r="1.7"/>
<circle cx="325.50" cy="332.50" r="1.7"/>
<circle cx="328.75" cy="332.50" r="1.7"/>
<circle cx="337.25" cy="334.00" r="1.7"/>
<circle cx="311.50" cy="339.00" r="1.7"/>
<circle cx="318.50" cy="339.50" r="1.7"/>
<circle cx="300.25" cy="344.00" r="1.7"/>
<circle cx="304.00" cy="342.50" r="1.7"/>
<circle cx="310.10" cy="343.00" r="1.7"/>
<circle cx="303.00" cy="348.75" r="1.7"/>
<circle cx="304.25" cy="350.25" r="1.7"/>
<circle cx="312.00" cy="348.00" r="1.7"/>
<circle cx="320.00" cy="345.25" r="1.7"/>
<circle cx="322.00" cy="345.00" r="1.7"/>
<circle cx="355.75" cy="350.75" r="1.7"/>
<circle cx="374.75" cy="345.25" r="1.7"/>
<circle cx="302.75" cy="358.00" r="1.7"/>
<circle cx="303.75" cy="358.00" r="1.7"/>
<circle cx="312.75" cy="358.00" r="1.7"/>
<circle cx="296.25" cy="362.00" r="1.7"/>
<circle cx="309.50" cy="363.50" r="1.7"/>
<circle cx="301.75" cy="366.75" r="1.7"/>
<circle cx="313.75" cy="368.50" r="1.7"/>
<circle cx="303.75" cy="370.75" r="1.7"/>
<circle cx="353.00" cy="363.75" r="1.7"/>
<circle cx="345.50" cy="368.00" r="1.7"/>
<circle cx="341.00" cy="373.75" r="1.7"/>
<circle cx="332.75" cy="377.75" r="1.7"/>
<circle cx="316.25" cy="381.00" r="1.7"/>
<circle cx="313.00" cy="385.25" r="1.7"/>
<circle cx="312.75" cy="393.25" r="1.7"/>
<circle cx="298.50" cy="411.25" r="1.7"/>
<circle cx="407.00" cy="264.00" r="1.7"/>
<circle cx="440.75" cy="286.75" r="1.7"/>
<circle cx="488.50" cy="305.75" r="1.7"/>
<text class="lt" font-size="15.4" stroke-width="0.3" transform="translate(291.36,245.05) scale(1.14,1)">e</text>
<text class="yl" word-spacing="1.88" transform="translate(260.4,338.6) rotate(-90)">GCPS , %</text>
<text class="al" text-anchor="middle" textLength="66.7" lengthAdjust="spacing" xml:space="preserve" x="409.0" y="449.7">NTproBNP  , pg/ml</text>
<text class="eq" x="422.39 428.47 434.26 440.27 445.56 451.21 456.84 461.93 468.19 473.89 479.32 485.47 490.76 496.44" y="233.80 233.80 233.80 233.80 233.80 233.80 233.80 233.80 234.80 233.80 233.80 233.80 233.80 233.80">Y=0.005X<tspan font-size="17.0" stroke="none">-</tspan>21.94</text>
<text class="eq" x="421.92 428.47 434.26 440.27 445.57 451.19 456.72 462.64" y="247.20 247.20 247.20 247.20 247.20 247.20 247.20 250.00">R=0.351<tspan font-size="14.0">*</tspan></text>
</g>
<g id="panel-f">
<path class="ax" d="M538.05,229V430.25H756"/>
<path class="tk" d="M535.15,268.00H538.05M535.15,329.50H538.05M535.15,390.00H538.05M549.00,430.25V433.35M581.50,430.25V433.35M614.50,430.25V433.35M647.50,430.25V433.35M680.00,430.25V433.35M712.75,430.25V433.35M745.25,430.25V433.35"/>
<text class="tl" text-anchor="end" x="534.35" y="270.35">-5.00</text>
<text class="tl" text-anchor="end" x="534.35" y="331.85">-10.00</text>
<text class="tl" text-anchor="end" x="534.35" y="392.35">-15.00</text>
<text class="tl" text-anchor="middle" x="549.00" y="439.10">.00</text>
<text class="tl" text-anchor="middle" x="581.50" y="439.10">200.00</text>
<text class="tl" text-anchor="middle" x="614.50" y="439.10">400.00</text>
<text class="tl" text-anchor="middle" x="647.50" y="439.10">600.00</text>
<text class="tl" text-anchor="middle" x="680.00" y="439.10">800.00</text>
<text class="tl" text-anchor="middle" x="712.75" y="439.10">1000.00</text>
<text class="tl" text-anchor="middle" x="745.25" y="439.10">1200.00</text>
<path class="cv" d="M550.00,308.72C550.67,308.69 552.68,308.60 554.02,308.52C555.36,308.45 556.70,308.37 558.04,308.27C559.38,308.18 560.72,308.07 562.06,307.96C563.40,307.84 564.74,307.71 566.08,307.57C567.42,307.42 568.76,307.27 570.10,307.09C571.44,306.92 572.78,306.73 574.12,306.52C575.47,306.32 576.81,306.09 578.15,305.85C579.49,305.61 580.83,305.35 582.17,305.07C583.51,304.78 584.85,304.48 586.19,304.17C587.53,303.85 588.87,303.51 590.21,303.15C591.55,302.80 592.89,302.42 594.23,302.03C595.57,301.64 596.91,301.24 598.25,300.82C599.59,300.40 600.93,299.96 602.27,299.51C603.61,299.07 604.95,298.61 606.29,298.14C607.63,297.67 608.97,297.18 610.31,296.69C611.65,296.20 612.99,295.70 614.33,295.20C615.67,294.69 617.01,294.18 618.35,293.66C619.69,293.13 621.03,292.61 622.38,292.07C623.72,291.54 625.06,291.00 626.40,290.46C627.74,289.92 629.08,289.37 630.42,288.82C631.76,288.27 633.10,287.72 634.44,287.16C635.78,286.60 637.12,286.04 638.46,285.47C639.80,284.91 641.14,284.34 642.48,283.77C643.82,283.21 645.16,282.63 646.50,282.06C647.84,281.49 649.18,280.91 650.52,280.33C651.86,279.76 653.20,279.18 654.54,278.60C655.88,278.02 657.22,277.43 658.56,276.85C659.90,276.27 661.24,275.68 662.58,275.10C663.92,274.51 665.26,273.92 666.60,273.33C667.94,272.75 669.28,272.16 670.62,271.57C671.97,270.98 673.31,270.38 674.65,269.79C675.99,269.20 677.33,268.61 678.67,268.01C680.01,267.42 681.35,266.83 682.69,266.23C684.03,265.64 685.37,265.04 686.71,264.44C688.05,263.85 689.39,263.25 690.73,262.65C692.07,262.06 693.41,261.46 694.75,260.86C696.09,260.26 697.43,259.66 698.77,259.06C700.11,258.46 701.45,257.86 702.79,257.26C704.13,256.66 705.47,256.06 706.81,255.46C708.15,254.86 709.49,254.26 710.83,253.66C712.17,253.06 713.51,252.45 714.85,251.85C716.19,251.25 717.53,250.65 718.88,250.04C720.22,249.44 721.56,248.84 722.90,248.23C724.24,247.63 725.58,247.03 726.92,246.42C728.26,245.82 729.60,245.21 730.94,244.61C732.28,244.01 733.62,243.40 734.96,242.80C736.30,242.19 737.64,241.59 738.98,240.98C740.32,240.37 742.33,239.47 743.00,239.16"/>
<path class="cv" d="M538.05,323.00L756.00,276.80"/>
<path class="cv" d="M550.00,332.01C550.67,331.76 552.68,331.00 554.02,330.51C555.36,330.01 556.70,329.53 558.04,329.05C559.38,328.58 560.72,328.12 562.06,327.66C563.40,327.21 564.74,326.77 566.08,326.35C567.42,325.92 568.76,325.51 570.10,325.12C571.44,324.72 572.78,324.34 574.12,323.98C575.47,323.62 576.81,323.28 578.15,322.95C579.49,322.63 580.83,322.32 582.17,322.03C583.51,321.74 584.85,321.48 586.19,321.23C587.53,320.98 588.87,320.75 590.21,320.53C591.55,320.32 592.89,320.13 594.23,319.95C595.57,319.77 596.91,319.61 598.25,319.46C599.59,319.31 600.93,319.18 602.27,319.06C603.61,318.94 604.95,318.83 606.29,318.73C607.63,318.63 608.97,318.55 610.31,318.47C611.65,318.39 612.99,318.32 614.33,318.26C615.67,318.20 617.01,318.15 618.35,318.10C619.69,318.05 621.03,318.01 622.38,317.98C623.72,317.94 625.06,317.91 626.40,317.88C627.74,317.86 629.08,317.84 630.42,317.82C631.76,317.80 633.10,317.79 634.44,317.78C635.78,317.77 637.12,317.76 638.46,317.76C639.80,317.75 641.14,317.75 642.48,317.75C643.82,317.75 645.16,317.76 646.50,317.76C647.84,317.77 649.18,317.77 650.52,317.78C651.86,317.79 653.20,317.80 654.54,317.82C655.88,317.83 657.22,317.84 658.56,317.86C659.90,317.87 661.24,317.89 662.58,317.91C663.92,317.93 665.26,317.95 666.60,317.97C667.94,317.99 669.28,318.01 670.62,318.03C671.97,318.05 673.31,318.07 674.65,318.10C675.99,318.12 677.33,318.15 678.67,318.17C680.01,318.20 681.35,318.22 682.69,318.25C684.03,318.28 685.37,318.30 686.71,318.33C688.05,318.36 689.39,318.39 690.73,318.42C692.07,318.45 693.41,318.48 694.75,318.51C696.09,318.54 697.43,318.57 698.77,318.60C700.11,318.63 701.45,318.66 702.79,318.69C704.13,318.73 705.47,318.76 706.81,318.79C708.15,318.82 709.49,318.86 710.83,318.89C712.17,318.92 713.51,318.96 714.85,318.99C716.19,319.03 717.53,319.06 718.88,319.10C720.22,319.13 721.56,319.17 722.90,319.20C724.24,319.24 725.58,319.27 726.92,319.31C728.26,319.34 729.60,319.38 730.94,319.42C732.28,319.45 733.62,319.49 734.96,319.53C736.30,319.56 737.64,319.60 738.98,319.64C740.32,319.67 742.33,319.73 743.00,319.75"/>
<circle cx="552.50" cy="267.50" r="1.7"/>
<circle cx="560.75" cy="278.00" r="1.7"/>
<circle cx="565.50" cy="281.00" r="1.7"/>
<circle cx="558.00" cy="290.00" r="1.7"/>
<circle cx="556.75" cy="294.00" r="1.7"/>
<circle cx="550.50" cy="300.50" r="1.7"/>
<circle cx="553.50" cy="301.25" r="1.7"/>
<circle cx="556.00" cy="301.25" r="1.7"/>
<circle cx="554.50" cy="303.75" r="1.7"/>
<circle cx="559.50" cy="304.75" r="1.7"/>
<circle cx="565.50" cy="305.00" r="1.7"/>
<circle cx="558.00" cy="308.00" r="1.7"/>
<circle cx="552.00" cy="314.75" r="1.7"/>
<circle cx="564.25" cy="321.00" r="1.7"/>
<circle cx="567.00" cy="322.40" r="1.7"/>
<circle cx="557.00" cy="335.25" r="1.7"/>
<circle cx="553.00" cy="339.00" r="1.7"/>
<circle cx="565.50" cy="337.50" r="1.7"/>
<circle cx="558.40" cy="341.70" r="1.7"/>
<circle cx="558.00" cy="344.60" r="1.7"/>
<circle cx="567.00" cy="328.00" r="1.7"/>
<circle cx="554.20" cy="347.10" r="1.7"/>
<circle cx="555.90" cy="349.00" r="1.7"/>
<circle cx="558.40" cy="353.90" r="1.7"/>
<circle cx="567.30" cy="352.50" r="1.7"/>
<circle cx="563.75" cy="362.50" r="1.7"/>
<circle cx="566.80" cy="367.00" r="1.7"/>
<circle cx="596.75" cy="248.75" r="1.7"/>
<circle cx="607.50" cy="250.75" r="1.7"/>
<circle cx="608.00" cy="266.00" r="1.7"/>
<circle cx="577.50" cy="268.25" r="1.7"/>
<circle cx="743.00" cy="254.25" r="1.7"/>
<circle cx="661.25" cy="277.75" r="1.7"/>
<circle cx="579.90" cy="288.60" r="1.7"/>
<circle cx="579.90" cy="292.00" r="1.7"/>
<circle cx="568.75" cy="293.00" r="1.7"/>
<circle cx="601.50" cy="292.75" r="1.7"/>
<circle cx="576.00" cy="304.25" r="1.7"/>
<circle cx="570.50" cy="306.00" r="1.7"/>
<circle cx="583.00" cy="309.50" r="1.7"/>
<circle cx="587.00" cy="309.75" r="1.7"/>
<circle cx="573.75" cy="313.00" r="1.7"/>
<circle cx="618.75" cy="312.25" r="1.7"/>
<circle cx="587.75" cy="319.75" r="1.7"/>
<circle cx="599.75" cy="319.00" r="1.7"/>
<circle cx="695.00" cy="317.25" r="1.7"/>
<circle cx="595.25" cy="330.00" r="1.7"/>
<circle cx="603.75" cy="334.75" r="1.7"/>
<circle cx="591.25" cy="337.25" r="1.7"/>
<circle cx="567.75" cy="339.25" r="1.7"/>
<circle cx="629.30" cy="342.40" r="1.7"/>
<circle cx="573.00" cy="365.00" r="1.7"/>
<circle cx="610.25" cy="404.00" r="1.7"/>
<text class="lt" font-size="16.3" stroke-width="0.1" transform="translate(549.03,244.1) scale(1.18,1)">f</text>
<text class="yl" word-spacing="2.31" transform="translate(514.9,338.8) rotate(-90)">GLPS , %</text>
<text class="al" text-anchor="middle" textLength="65.7" lengthAdjust="spacing" xml:space="preserve" x="662.75" y="449.8">NTproBNP  , pg/ml</text>
<text class="eq" x="675.19 681.27 687.06 693.07 698.36 704.01 709.67 714.73 720.99 726.61 732.62 737.92 743.64" y="233.70 233.70 233.70 233.70 233.70 233.70 233.70 233.70 234.70 233.70 233.70 233.70 233.70">Y=0.003X<tspan font-size="17.0" stroke="none">-</tspan>9.32</text>
<text class="eq" x="674.72 681.27 687.06 693.07 698.44 704.04 709.66" y="247.20 247.20 247.20 247.20 247.20 247.20 247.20">R=0.240</text>
</g>
</svg>
</body>
</html>
